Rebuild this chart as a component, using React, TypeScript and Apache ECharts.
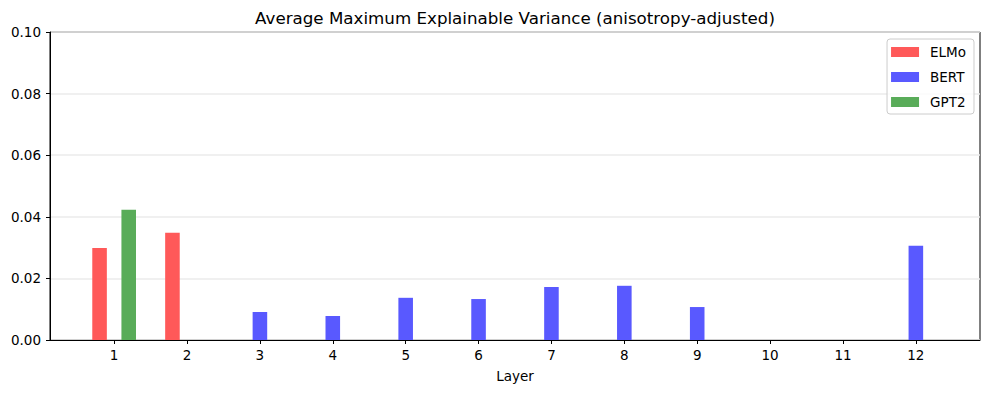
import React, { useEffect, useRef } from "react";
import * as echarts from "echarts";

const layers = [1, 2, 3, 4, 5, 6, 7, 8, 9, 10, 11, 12];
const elmoValues = [0.0299, 0.0348, 0, 0, 0, 0, 0, 0, 0, 0, 0, 0];
const bertValues = [0, 0, 0.0091, 0.0078, 0.0137, 0.0133, 0.0172, 0.0176, 0.0107, 0, 0, 0.0306];
const gpt2Values = [0.0423, 0, 0, 0, 0, 0, 0, 0, 0, 0, 0, 0];
const seriesNames = ["ELMo", "BERT", "GPT2"];
const seriesOffsets = [-0.2, 0, 0.2];
const seriesColors = ["#ff5959", "#5959ff", "#59ac59"];
const yTicks = [0, 0.02, 0.04, 0.06, 0.08, 0.1];

const FONT = "DejaVu Sans";
const BAR_W = 0.2;
const FS = 13.5;

export default function App() {
  const ref = useRef<HTMLDivElement>(null);
  useEffect(() => {
    if (!ref.current) return;
    const chart = echarts.init(ref.current, undefined, { renderer: "svg" });
    const allValues = [elmoValues, bertValues, gpt2Values];
    const series = seriesNames.map((name, si) => ({
      name,
      type: "custom",
      itemStyle: { color: seriesColors[si] },
      data: layers.map((l, i) => [l + seriesOffsets[si], allValues[si][i]]),
      clip: true,
      renderItem: (params: any, api: any) => {
        const x = api.value(0);
        const v = api.value(1);
        const p0 = api.coord([x - BAR_W / 2, v]);
        const p1 = api.coord([x + BAR_W / 2, 0]);
        return {
          type: "rect",
          shape: { x: p0[0], y: p0[1], width: p1[0] - p0[0], height: p1[1] - p0[1] },
          style: { fill: seriesColors[si] },
        };
      },
    }));
    chart.setOption({
      animation: false,
      textStyle: { fontFamily: FONT },
      graphic: [
        {
          type: "text",
          x: 515,
          y: 18,
          style: {
            text: "Average Maximum Explainable Variance (anisotropy-adjusted)",
            font: `16.7px '${FONT}'`,
            fill: "#000",
            textAlign: "center",
            textVerticalAlign: "middle",
          },
        },
      ],
      grid: {
        left: 50,
        right: 13,
        top: 32,
        bottom: 53,
        show: true,
        borderColor: "#000",
        borderWidth: 1,
        backgroundColor: "transparent",
      },
      legend: {
        orient: "vertical",
        right: 19,
        top: 39,
        align: "left",
        itemWidth: 28,
        itemHeight: 10,
        itemGap: 11,
        padding: [6, 8, 5, 4],
        backgroundColor: "rgba(255,255,255,0.8)",
        borderColor: "#cccccc",
        borderWidth: 1,
        borderRadius: 3,
        textStyle: { fontFamily: FONT, fontSize: FS, color: "#000", padding: [0, 0, 0, 6] },
        data: seriesNames.map((n, i) => ({ name: n, icon: "rect", itemStyle: { color: seriesColors[i] } })),
      },
      xAxis: {
        type: "value",
        min: 0.12,
        max: 12.88,
        name: "Layer",
        nameLocation: "middle",
        nameGap: 29,
        nameTextStyle: { fontFamily: FONT, fontSize: FS, color: "#000" },
        axisLine: { show: true, lineStyle: { color: "#000", width: 1 } },
        axisTick: { show: true, length: 4, lineStyle: { color: "#000" }, customValues: layers },
        axisLabel: {
          customValues: layers,
          margin: 8,
          fontFamily: FONT,
          fontSize: FS,
          color: "#000",
          formatter: (v: number) => String(Math.round(v)),
        },
        splitLine: { show: false },
      },
      yAxis: {
        type: "value",
        min: 0,
        max: 0.1,
        interval: 0.02,
        axisLine: { show: true, lineStyle: { color: "#000", width: 1 } },
        axisTick: { show: true, length: 4, lineStyle: { color: "#000" } },
        axisLabel: {
          margin: 9,
          fontFamily: FONT,
          fontSize: FS,
          color: "#000",
          customValues: yTicks,
          formatter: (v: number) => v.toFixed(2),
        },
        splitLine: { show: true, lineStyle: { color: "#ebebeb", width: 1.5 } },
      },
      series,
    });
    return () => chart.dispose();
  }, []);
  return (
    <div
      ref={ref}
      style={{ position: "absolute", left: 0, top: 0, width: 993, height: 393, background: "#fff" }}
    />
  );
}
